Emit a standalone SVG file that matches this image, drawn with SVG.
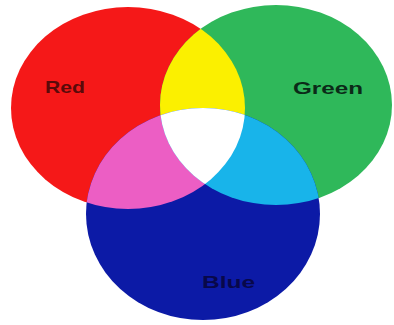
<svg xmlns="http://www.w3.org/2000/svg" width="394" height="325" viewBox="0 0 394 325">
<style>
.lbl{font-family:"Liberation Sans",Arial,sans-serif;font-weight:bold;font-size:17px}
</style>
<defs>
<clipPath id="cR"><ellipse cx="128" cy="108" rx="117" ry="101"/></clipPath>
<clipPath id="cG"><ellipse cx="276" cy="105" rx="116" ry="100"/></clipPath>
</defs>
<rect width="394" height="325" fill="#ffffff"/>
<g id="red"><ellipse cx="128" cy="108" rx="117" ry="101" fill="#f51818"/>
<text class="lbl" x="45" y="93" textLength="40" lengthAdjust="spacingAndGlyphs" fill="#5a0a0a">Red</text></g>
<g id="green"><ellipse cx="276" cy="105" rx="116" ry="100" fill="#2fb85a"/>
<text class="lbl" x="293" y="94" textLength="70" lengthAdjust="spacingAndGlyphs" fill="#0b2a18">Green</text></g>
<g id="blue"><ellipse cx="203" cy="214" rx="117" ry="106" fill="#0c1aa6"/>
<text class="lbl" x="202" y="288" textLength="53" lengthAdjust="spacingAndGlyphs" fill="#08084a">Blue</text></g>
<g id="overlaps">
<ellipse clip-path="url(#cR)" cx="276" cy="105" rx="116" ry="100" fill="#fbf000"/>
<ellipse clip-path="url(#cR)" cx="203" cy="214" rx="117" ry="106" fill="#ec5ec4"/>
<ellipse clip-path="url(#cG)" cx="203" cy="214" rx="117" ry="106" fill="#18b4ea"/>
<g clip-path="url(#cG)"><ellipse clip-path="url(#cR)" cx="203" cy="214" rx="117" ry="106" fill="#ffffff"/></g>
</g>
</svg>
